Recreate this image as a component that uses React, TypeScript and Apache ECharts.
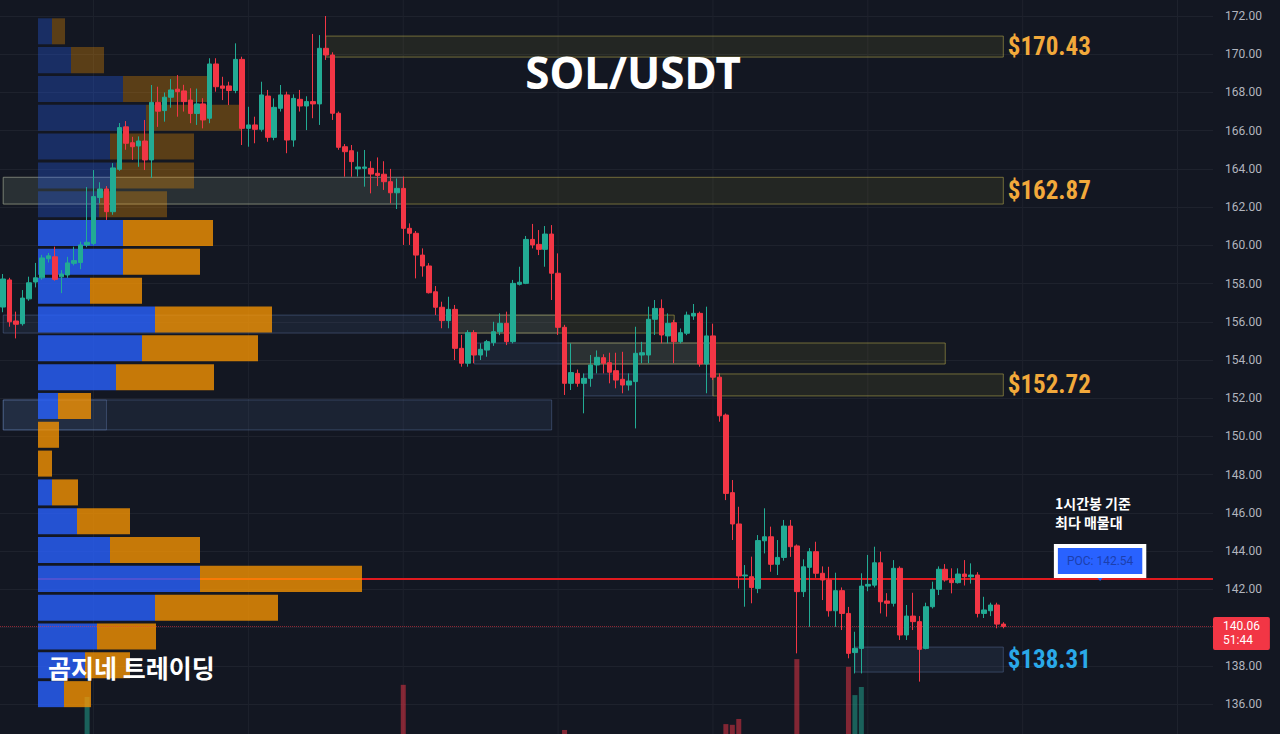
import { useEffect, useRef } from "react";
import * as echarts from "echarts";

// ---------- 1h candles (oldest -> newest) ----------
const open = [
  156.77, 158.19, 156.04, 155.9, 157.2, 158.08, 158.3, 159.3, 159.4, 158.35,
  158.45, 159.06, 159.1, 160.02, 160.1, 162.5, 162.95, 161.76, 163.98, 166.2,
  165.37, 165.2, 165.46, 164.47, 167.48, 167.05, 167.75, 168.17, 168.08, 167.6,
  166.9, 167.4, 166.65, 169.49, 168.34, 168.34, 168.1, 169.73, 166.12, 166.3,
  166.07, 167.81, 165.65, 167.17, 167.87, 165.51, 167.64, 167.29, 167.52, 167.4,
  170.31, 169.96, 166.91, 165.16, 164.95, 164.0, 164.03, 164.03, 163.77, 163.72,
  163.33, 162.75, 162.98, 160.89, 160.63, 159.49, 158.92, 157.57, 156.76, 156.06,
  156.65, 154.61, 153.83, 155.43, 154.26, 154.52, 154.91, 155.48, 155.92, 154.96,
  157.96, 158.01, 160.31, 160.05, 159.79, 160.59, 158.54, 155.71, 152.78, 153.3,
  152.78, 153.04, 153.74, 154.12, 153.86, 153.44, 152.99, 152.69, 152.87, 154.26,
  154.26, 156.13, 156.7, 155.26, 155.95, 154.96, 155.4, 156.3, 156.44, 153.79,
  155.26, 153.1, 151.12, 147.06, 145.42, 142.7, 142.66, 142.05, 144.54, 144.75,
  143.31, 143.67, 145.31, 144.27, 141.88, 143.15, 143.97, 142.84, 142.49, 140.88,
  141.93, 140.74, 138.69, 138.91, 142.17, 142.22, 143.39, 141.39, 141.27, 143.1,
  139.61, 140.6, 140.31, 138.91, 141.09, 142.0, 143.05, 142.49, 142.35, 142.8,
  142.66, 142.75, 140.74, 140.88, 141.18, 140.18,
];
const close = [
  158.24, 156.0, 155.87, 157.24, 158.04, 158.3, 159.34, 159.45, 158.22, 158.5,
  159.08, 159.2, 160.02, 160.16, 162.55, 162.95, 161.76, 164.05, 166.16, 165.34,
  165.16, 165.46, 164.47, 167.48, 167.02, 167.75, 168.13, 168.04, 167.52, 166.9,
  167.4, 166.56, 169.49, 168.3, 168.22, 168.1, 169.73, 166.12, 166.3, 166.07,
  167.87, 165.65, 167.22, 167.87, 165.51, 167.69, 167.29, 167.52, 167.4, 170.31,
  169.96, 166.91, 165.13, 164.9, 164.38, 164.1, 164.1, 163.73, 163.66, 163.33,
  162.75, 162.98, 160.89, 160.63, 159.49, 158.92, 157.52, 156.76, 156.06, 156.65,
  154.61, 153.83, 155.43, 154.26, 154.56, 154.96, 155.48, 155.92, 154.96, 158.01,
  158.07, 160.31, 160.02, 159.79, 160.59, 158.54, 155.71, 152.78, 153.34, 152.78,
  153.04, 153.74, 154.14, 153.83, 153.36, 152.95, 152.69, 152.9, 154.35, 154.38,
  156.13, 156.7, 155.31, 155.92, 154.96, 155.43, 156.35, 156.44, 153.79, 155.26,
  153.1, 151.08, 147.02, 145.42, 142.7, 142.75, 142.1, 144.55, 144.75, 143.31,
  143.67, 145.31, 144.23, 141.88, 143.18, 143.97, 142.84, 142.49, 140.88, 141.93,
  140.74, 138.65, 138.91, 142.17, 142.26, 143.39, 141.35, 141.27, 143.1, 139.61,
  140.6, 140.31, 138.86, 141.09, 142.0, 143.05, 142.49, 142.35, 142.8, 142.66,
  142.75, 140.74, 140.92, 141.18, 140.18, 140.06,
];
const low = [
  156.5, 155.74, 155.13, 155.8, 157.1, 157.8, 158.2, 159.1, 158.15, 157.5,
  158.3, 158.95, 158.75, 159.9, 160.0, 162.2, 161.33, 161.6, 163.9, 165.0,
  164.47, 164.11, 163.94, 163.52, 166.2, 166.47, 167.2, 166.73, 167.0, 166.39,
  166.3, 166.12, 166.39, 168.04, 167.6, 167.34, 167.96, 165.25, 165.16, 165.34,
  165.95, 165.42, 165.5, 167.0, 164.82, 165.16, 167.0, 166.03, 166.65, 166.3,
  169.7, 166.56, 165.0, 163.59, 163.59, 163.6, 163.07, 162.72, 163.1, 162.9,
  162.2, 161.9, 160.02, 160.02, 158.27, 158.36, 157.48, 156.35, 155.66, 155.66,
  154.0, 153.65, 153.65, 153.83, 154.0, 154.17, 154.74, 155.3, 154.78, 154.87,
  157.9, 157.97, 159.84, 159.49, 158.88, 157.14, 155.31, 152.17, 152.43, 152.6,
  151.21, 152.6, 153.3, 153.3, 152.78, 152.52, 152.26, 152.4, 150.42, 153.83,
  153.83, 155.31, 154.87, 154.87, 153.83, 154.87, 155.3, 156.1, 153.65, 152.26,
  152.95, 150.77, 146.67, 144.58, 142.05, 141.09, 141.27, 141.8, 143.88, 142.92,
  142.75, 143.5, 143.7, 138.65, 141.6, 140.04, 142.6, 141.44, 140.57, 140.04,
  139.87, 138.39, 137.6, 137.6, 141.9, 142.1, 140.74, 140.57, 141.1, 139.35,
  139.35, 139.87, 137.17, 138.86, 141.0, 141.7, 142.4, 141.79, 142.3, 142.2,
  142.3, 140.53, 140.5, 140.6, 139.96, 139.96,
];
const high = [
  158.5, 158.3, 156.53, 157.66, 158.36, 159.08, 159.5, 159.6, 159.93, 158.7,
  159.4, 159.93, 160.19, 163.05, 163.94, 163.3, 163.1, 164.3, 166.4, 166.5,
  165.68, 165.7, 166.56, 168.39, 168.3, 168.0, 168.7, 168.91, 168.4, 168.22,
  168.2, 167.7, 169.79, 169.79, 168.82, 168.56, 170.57, 169.87, 167.25, 166.73,
  168.56, 168.13, 167.69, 168.39, 168.04, 167.9, 168.13, 167.8, 171.06, 171.0,
  172.0, 170.1, 167.0, 165.3, 165.25, 164.9, 164.99, 164.4, 164.6, 164.4,
  164.0, 163.5, 163.6, 161.15, 160.75, 159.84, 159.07, 157.87, 157.05, 157.31,
  156.88, 155.31, 155.56, 155.56, 154.87, 155.05, 156.0, 156.44, 156.53, 158.19,
  158.88, 160.49, 161.12, 160.8, 161.01, 161.06, 159.58, 155.84, 154.87, 153.5,
  153.3, 154.26, 154.5, 154.3, 154.38, 154.38, 154.43, 153.3, 155.74, 154.95,
  156.79, 157.14, 157.17, 156.44, 156.1, 155.65, 156.53, 156.93, 156.53, 156.79,
  155.9, 153.3, 151.2, 147.72, 146.32, 143.27, 143.71, 144.84, 146.24, 145.28,
  144.58, 145.63, 145.63, 144.35, 143.57, 144.16, 144.49, 143.2, 143.18, 142.87,
  142.1, 141.08, 139.78, 142.84, 143.8, 144.23, 143.97, 141.8, 143.53, 143.2,
  141.18, 141.82, 140.6, 141.3, 142.4, 143.2, 143.32, 143.1, 143.1, 143.53,
  143.36, 142.9, 141.61, 141.3, 141.3, 140.28,
];

// hourly slots on the x axis (candles + empty space on the right)
const slotCount = 188;
const slots = Array.from({ length: slotCount }, (_, i) => String(i));
const daySlots = [14, 38, 62, 86, 110, 134, 158, 182];

// volume bars tall enough to be seen at the bottom edge
const volumeAt = [13, 62, 87, 112, 113, 114, 123, 131, 132, 133];
const volumeK = [101, 134, 11, 27, 25, 41, 204, 183, 106, 128];

// volume profile (top bin -> bottom bin)
const profileBuy = [14, 33, 85, 108, 72, 78, 61, 85, 85, 52, 117, 104, 78, 20, 0, 0, 14, 39, 72, 162, 117, 59, 47, 26];
const profileSell = [13, 33, 86, 96, 84, 78, 68, 90, 77, 52, 117, 116, 98, 33, 21, 14, 26, 53, 90, 162, 123, 59, 45, 27];
const profileTop = 171.88;
const profileStep = 1.508;
const valueAreaFrom = 7;
const profileAxisMax = 1175;

const pocPrice = 142.54;
const lastPrice = 140.06;
const countdown = "51:44";

// zones: start slot, end slot, top price, bottom price, kind, label
const zones = [
  { from: 50, to: 155, top: 170.95, bottom: 169.85, kind: "supply", label: "$170.43" },
  { from: 0, to: 155, top: 163.56, bottom: 162.16, kind: "supply", label: "$162.87" },
  { from: 0, to: 62, top: 163.56, bottom: 162.16, kind: "demand", label: "" },
  { from: 0, to: 86, top: 156.35, bottom: 155.41, kind: "demand", label: "" },
  { from: 70, to: 104, top: 156.35, bottom: 155.41, kind: "supply", label: "" },
  { from: 73, to: 110, top: 154.89, bottom: 153.79, kind: "demand", label: "" },
  { from: 87, to: 146, top: 154.89, bottom: 153.79, kind: "supply", label: "" },
  { from: 90, to: 110, top: 153.27, bottom: 152.12, kind: "demand", label: "" },
  { from: 110, to: 155, top: 153.27, bottom: 152.12, kind: "supply", label: "$152.72" },
  { from: 0, to: 85, top: 151.91, bottom: 150.34, kind: "demand", label: "" },
  { from: 0, to: 16, top: 151.91, bottom: 150.34, kind: "demand", label: "" },
  { from: 132, to: 155, top: 138.98, bottom: 137.67, kind: "demand", label: "$138.31" },
];

const UP = "#22ab94";
const DOWN = "#f23645";
const BG = "#131722";
const GRID = "#1e222d";
const NARROW = '"Liberation Sans Narrow", "Roboto Condensed", Roboto, sans-serif';

export default function App() {
  const ref = useRef<HTMLDivElement>(null);

  useEffect(() => {
    if (!ref.current) return;
    const chart = echarts.init(ref.current, undefined, { renderer: "svg" });

    const candles = open.map((o, i) => [o, close[i], low[i], high[i]]);
    const volumeData = open.map((o, i) => {
      const k = volumeAt.indexOf(i);
      if (k < 0) return "-";
      return {
        value: volumeK[k],
        itemStyle: { color: close[i] >= o ? "rgba(34,171,148,0.5)" : "rgba(242,54,69,0.5)" },
      };
    });
    const profileData = profileBuy.map((b, k) => [k, b, profileSell[k]]);

    const zoneData = zones.map((z) => {
      const supply = z.kind === "supply";
      return [
        {
          name: z.label,
          xAxis: String(z.from),
          yAxis: z.top,
          itemStyle: {
            color: supply ? "rgba(255,235,59,0.07)" : "rgba(90,120,180,0.12)",
            borderColor: supply ? "rgba(200,185,80,0.5)" : "rgba(100,125,175,0.4)",
            borderWidth: 1,
          },
          label: {
            show: z.label !== "",
            position: "right",
            distance: 4,
            formatter: "{b}",
            color: supply ? "#f2a93b" : "#2aa9e8",
            fontSize: 25,
            fontWeight: "bold",
            fontFamily: NARROW,
          },
        },
        { xAxis: String(z.to), yAxis: z.bottom },
      ];
    });

    const option: any = {
      animation: false,
      backgroundColor: BG,
      grid: [
        { left: -2.7, right: 67, top: 16, bottom: 30 },
        { left: 38, right: 67, top: 16, bottom: 30 },
        { left: -2.7, right: 67, top: 0, bottom: 0 },
      ],
      xAxis: [
        { gridIndex: 0, type: "category", data: slots, boundaryGap: true, show: false },
        { gridIndex: 1, type: "value", min: 0, max: profileAxisMax, show: false },
        { gridIndex: 2, type: "category", data: slots, boundaryGap: true, show: false },
      ],
      yAxis: [
        {
          gridIndex: 0,
          type: "value",
          position: "right",
          min: 136,
          max: 172,
          interval: 2,
          axisLine: { show: false },
          axisTick: { show: false },
          axisLabel: {
            color: "#b2b5be",
            fontSize: 12,
            fontFamily: "Roboto, sans-serif",
            margin: 12,
            // the 140.00 tick sits under the last-price badge
            formatter: (v: number) => (Math.abs(v - lastPrice) < 1 ? "" : v.toFixed(2)),
          },
          splitLine: { lineStyle: { color: GRID, width: 1 } },
        },
        { gridIndex: 1, type: "value", min: 136, max: 172, show: false },
        { gridIndex: 2, type: "value", min: 0, max: 2000, show: false },
      ],
      graphic: [
        {
          type: "text",
          x: 633,
          y: 72,
          z: 20,
          style: {
            text: "SOL/USDT",
            fill: "#ffffff",
            fontSize: 44,
            fontWeight: "bold",
            fontFamily: '"Noto Sans", sans-serif',
            align: "center",
            verticalAlign: "middle",
          },
        },
        {
          type: "text",
          x: 48,
          y: 667,
          z: 20,
          style: {
            text: "곰지네 트레이딩",
            fill: "#ffffff",
            fontSize: 25,
            fontWeight: "bold",
            fontFamily: '"Noto Sans CJK KR", sans-serif',
            align: "left",
            verticalAlign: "middle",
          },
        },
        {
          type: "text",
          x: 1055,
          y: 503,
          z: 20,
          style: {
            text: "1시간봉 기준",
            fill: "#ffffff",
            fontSize: 14,
            fontWeight: "bold",
            fontFamily: '"Noto Sans CJK KR", sans-serif',
            align: "left",
            verticalAlign: "middle",
          },
        },
        {
          type: "text",
          x: 1055,
          y: 522,
          z: 20,
          style: {
            text: "최다 매물대",
            fill: "#ffffff",
            fontSize: 14,
            fontWeight: "bold",
            fontFamily: '"Noto Sans CJK KR", sans-serif',
            align: "left",
            verticalAlign: "middle",
          },
        },
      ],
      series: [
        {
          name: "day-lines",
          type: "custom",
          xAxisIndex: 2,
          yAxisIndex: 2,
          z: 0,
          silent: true,
          clip: false,
          encode: { x: 0 },
          data: daySlots.map((d) => [d]),
          renderItem: (_p: any, api: any) => {
            const a = api.coord([api.value(0), 0]);
            const b = api.coord([api.value(0), 2000]);
            return {
              type: "line",
              shape: { x1: a[0], y1: a[1], x2: b[0], y2: b[1] },
              style: { stroke: GRID, lineWidth: 1 },
            };
          },
        },
        {
          name: "volume",
          type: "bar",
          xAxisIndex: 2,
          yAxisIndex: 2,
          data: volumeData,
          barWidth: 5,
          z: 1,
          silent: true,
        },
        {
          name: "poc-line",
          type: "custom",
          xAxisIndex: 1,
          yAxisIndex: 1,
          z: 2,
          silent: true,
          clip: false,
          encode: { y: 0 },
          data: [[pocPrice]],
          renderItem: (_p: any, api: any) => {
            const v = api.value(0);
            const a = api.coord([0, v]);
            const b = api.coord([profileAxisMax, v]);
            return {
              type: "line",
              shape: { x1: a[0], y1: a[1], x2: b[0], y2: b[1] },
              style: { stroke: "#e01a1f", lineWidth: 2 },
            };
          },
        },
        {
          name: "profile",
          type: "custom",
          xAxisIndex: 1,
          yAxisIndex: 1,
          z: 3,
          silent: true,
          clip: false,
          encode: { x: 1, y: 0 },
          data: profileData,
          renderItem: (_p: any, api: any) => {
            const k = api.value(0);
            const b = api.value(1);
            const s = api.value(2);
            const top = profileTop - k * profileStep;
            const bottom = top - profileStep;
            const p0 = api.coord([0, top]);
            const p1 = api.coord([b, bottom]);
            const p2 = api.coord([b + s, bottom]);
            const gap = 2.8;
            const h = p1[1] - p0[1] - gap;
            const va = k >= valueAreaFrom;
            return {
              type: "group",
              children: [
                {
                  type: "rect",
                  shape: { x: p0[0], y: p0[1], width: p1[0] - p0[0], height: h },
                  style: { fill: va ? "rgba(41,98,255,0.8)" : "rgba(41,98,255,0.3)" },
                },
                {
                  type: "rect",
                  shape: { x: p1[0], y: p0[1], width: p2[0] - p1[0], height: h },
                  style: { fill: va ? "rgba(255,152,0,0.76)" : "rgba(255,152,0,0.3)" },
                },
              ],
            };
          },
        },
        {
          name: "SOLUSDT",
          type: "candlestick",
          xAxisIndex: 0,
          yAxisIndex: 0,
          z: 5,
          clip: false,
          barWidth: 5,
          data: candles,
          itemStyle: {
            color: UP,
            color0: DOWN,
            borderColor: UP,
            borderColor0: DOWN,
            borderWidth: 1,
          },
          markArea: {
            silent: true,
            label: { show: false },
            data: zoneData,
          },
          markLine: {
            silent: true,
            symbol: ["none", "none"],
            data: [
              {
                yAxis: lastPrice,
                lineStyle: { color: "rgba(242,54,69,0.55)", type: "dotted", width: 1 },
                label: {
                  show: true,
                  position: "end",
                  distance: 0,
                  offset: [0, 7],
                  formatter: `${lastPrice.toFixed(2)}\n${countdown}`,
                  backgroundColor: "#f23645",
                  color: "#ffffff",
                  fontSize: 12,
                  lineHeight: 14,
                  fontFamily: "Roboto, sans-serif",
                  padding: [3, 10, 2, 10],
                  borderRadius: 2,
                },
              },
            ],
          },
          markPoint: {
            silent: true,
            data: [
              {
                coord: ["170", pocPrice],
                symbol: "triangle",
                symbolRotate: 180,
                symbolSize: [10, 6],
                symbolOffset: [0, -1],
                itemStyle: { color: "#2962ff" },
                label: {
                  show: true,
                  position: "top",
                  distance: 1,
                  formatter: `POC: ${pocPrice.toFixed(2)}`,
                  backgroundColor: "#2962ff",
                  borderColor: "#ffffff",
                  borderWidth: 4,
                  padding: [7, 9],
                  color: "#1c3fae",
                  fontSize: 12,
                  fontFamily: "Roboto, sans-serif",
                },
              },
            ],
          },
        },
      ],
    };

    chart.setOption(option);
    return () => chart.dispose();
  }, []);

  return (
    <div
      ref={ref}
      style={{ position: "fixed", left: 0, top: 0, width: 1280, height: 734, background: BG }}
    />
  );
}
